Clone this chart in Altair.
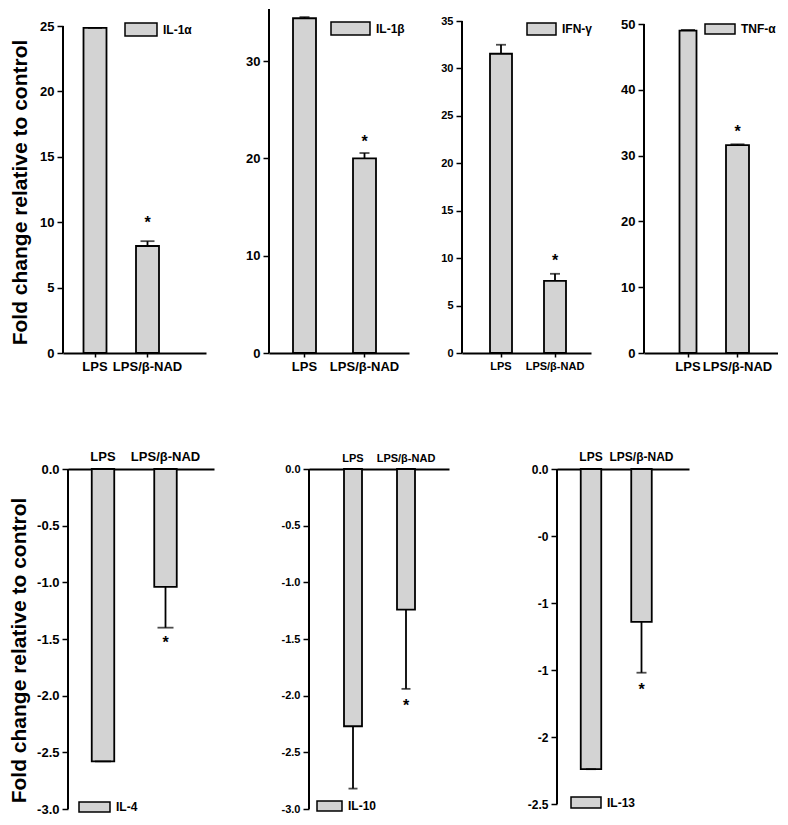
import altair as alt
import pandas as pd

# ---------------- data ----------------
groups = ["LPS", "LPS/β-NAD"]
cytokines = ["IL-1α", "IL-1β", "IFN-γ", "TNF-α", "IL-4", "IL-10", "IL-13"]
means = [
    [24.85, 8.18],
    [34.4, 20.0],
    [31.55, 7.6],
    [49.0, 31.6],
    [-2.58, -1.04],
    [-2.27, -1.24],
    [-2.24, -1.14],
]
sems = [
    [0.0, 0.37],
    [0.12, 0.55],
    [0.95, 0.75],
    [0.1, 0.12],
    [0.0, 0.36],
    [0.55, 0.70],
    [0.0, 0.38],
]
significant = [False, True]
y_ticks = [
    [0, 5, 10, 15, 20, 25],
    [0, 10, 20, 30],
    [0, 5, 10, 15, 20, 25, 30, 35],
    [0, 10, 20, 30, 40, 50],
    [0.0, -0.5, -1.0, -1.5, -2.0, -2.5, -3.0],
    [0.0, -0.5, -1.0, -1.5, -2.0, -2.5, -3.0],
    [0.0, -0.5, -1.0, -1.5, -2.0, -2.5],
]
y_tick_labels = [
    ["0", "5", "10", "15", "20", "25"],
    ["0", "10", "20", "30"],
    ["0", "5", "10", "15", "20", "25", "30", "35"],
    ["0", "10", "20", "30", "40", "50"],
    ["0.0", "-0.5", "-1.0", "-1.5", "-2.0", "-2.5", "-3.0"],
    ["0.0", "-0.5", "-1.0", "-1.5", "-2.0", "-2.5", "-3.0"],
    ["0.0", "-0", "-1", "-1", "-2", "-2.5"],
]
axis_ends = [25, 35.35, 35, 50, -3.0, -3.0, -2.5]
y_title = "Fold change relative to control"

# ---------------- layout / style ----------------
FONT = "Liberation Sans"
GRAY = "#d3d3d3"
LEG_S = 14  # legend entry height
# leg = (box left, box center y, box width, box height) relative to the plot origin
layout = [
    dict(pw=206, ph=344, r=(0, 143), c=(32, 84.5), bw=(23, 23), ydom=(0, 26.3), lfs=13, cap=14, star=-18,
         leg=(61, 19.5, 32, 13), title=(-42.5, 183), off=0),
    dict(pw=193, ph=344, r=(0, 140), c=(35.5, 95.5), bw=(23, 23), ydom=(0, 35.35), lfs=13, cap=10, star=-11,
         leg=(61, 18.5, 39, 13), title=None, off=0),
    dict(pw=182, ph=344, r=(0, 129), c=(39, 93), bw=(22, 22), ydom=(0, 36.27), lfs=11, cap=10, star=-12.7,
         leg=(64, 19, 29, 12), title=None, off=0),
    dict(pw=134, ph=344, r=(0, 134), c=(44, 93.5), bw=(17, 23), ydom=(0, 52.28), lfs=13, cap=14, star=-12.6,
         leg=(60, 19, 30, 10), title=None, off=0),
    dict(pw=246, ph=340, r=(5, 151), c=(40, 102.5), bw=(22.5, 22.5), ydom=(-3, 0), lfs=13, cap=16, star=15,
         leg=(15, 337, 31, 10), title=(-48.5, 181), off=-5),
    dict(pw=248, ph=340, r=(0, 140), c=(44, 97), bw=(18, 18), ydom=(-3, 0), lfs=11, cap=9, star=17,
         leg=(7, 336, 25, 10), title=None, off=0),
    dict(pw=132, ph=340, r=(0, 132), c=(34, 84.5), bw=(20.5, 20.5), ydom=(-2.537, 0), lfs=12, cap=10,
         star=17.7, leg=(13, 332.5, 30, 11), title=None, off=0),
]
ROW_GAP = 77


def label_expr(vals, labs):
    expr = "''"
    for v, l in reversed(list(zip(vals, labs))):
        expr = f"abs(datum.value - ({v})) < 1e-6 ? '{l}' : {expr}"
    return expr


def band_params(r0, r1, c1, c2):
    W = r1 - r0
    s = c2 - c1
    po = (W / s - 2) / 2
    al = ((c1 - r0) - s / 2) / (W - 2 * s)
    return po, al


def make_legend(box_left, cy, w, h):
    S = LEG_S
    kx = round(w / S, 4)
    ky = round(h / S, 4)
    path = f"M-{kx},-{ky}H{kx}V{ky}H-{kx}Z"
    lx = box_left - S / 2 + w / 2
    off = w / 2 + 5 - S / 2
    return alt.Legend(title=None, orient="none", legendX=lx, legendY=cy - S / 2,
                      symbolType=path, symbolSize=S * S,
                      symbolStrokeColor="black", symbolStrokeWidth=1.5, symbolFillColor=GRAY,
                      labelFont=FONT, labelFontWeight="bold", labelFontSize=12,
                      labelColor="black", labelOffset=off, padding=0)


def panel(i):
    name = cytokines[i]
    lay = layout[i]
    top = i < 4
    sign = 1 if top else -1
    df = pd.DataFrame({
        "group": groups,
        "value": means[i],
        "err": sems[i],
        "sig": significant,
        "cyt": [name, name],
    })
    df["end"] = df["value"] + sign * df["err"]

    po, al = band_params(lay["r"][0], lay["r"][1], lay["c"][0], lay["c"][1])
    xscale = alt.Scale(domain=groups, range=list(lay["r"]), paddingInner=0,
                       paddingOuter=po, align=al)
    yscale = alt.Scale(domain=list(lay["ydom"]), nice=False, zero=False)

    xaxis_kw = dict(title=None, labelAngle=0, labelFont=FONT, labelFontWeight="bold",
                    labelFontSize=lay["lfs"], labelColor="black", domainColor="black",
                    domainWidth=2, bandPosition=0.5, grid=False)
    if top:
        xaxis = alt.Axis(orient="bottom", ticks=True, tickSize=4, tickWidth=1.5,
                         tickColor="black", labelPadding=3, **xaxis_kw)
    else:
        xaxis = alt.Axis(orient="top", ticks=False, labelPadding=6, **xaxis_kw)

    yaxis_kw = dict(values=y_ticks[i], labelExpr=label_expr(y_ticks[i], y_tick_labels[i]),
                    domain=False, grid=False, tickSize=6, tickWidth=1.5, tickColor="black",
                    labelPadding=3, labelFont=FONT, labelFontWeight="bold",
                    labelFontSize=lay["lfs"], labelColor="black", offset=lay["off"])
    if lay["title"] is not None:
        yaxis = alt.Axis(title=y_title, titleFont=FONT, titleFontWeight="bold", titleFontSize=21,
                         titleColor="black", titleAngle=270, titleAlign="center",
                         titleBaseline="middle", titleX=lay["title"][0], titleY=lay["title"][1],
                         **yaxis_kw)
    else:
        yaxis = alt.Axis(title=None, **yaxis_kw)

    legend = make_legend(*lay["leg"])

    X = alt.X("group:N", scale=xscale, sort=groups, axis=xaxis)
    color = alt.Color("cyt:N", scale=alt.Scale(range=[GRAY]), legend=legend)

    base = alt.Chart(df)
    bar_layers = []
    for g, w in zip(groups, lay["bw"]):
        bar_layers.append(
            base.transform_filter(alt.datum.group == g)
            .mark_bar(width=w, stroke="black", strokeWidth=1.8)
            .encode(
                x=X,
                y=alt.Y("value:Q", scale=yscale, axis=yaxis),
                y2=alt.datum(0),
                color=color,
            )
        )
    errs = base.mark_rule(color="black", strokeWidth=1.8).encode(
        x=X,
        y=alt.Y("value:Q", scale=yscale, axis=yaxis),
        y2="end:Q",
    )
    caps = base.mark_tick(color="black", thickness=1.8, size=lay["cap"], orient="horizontal").encode(
        x=X,
        y=alt.Y("end:Q", scale=yscale, axis=yaxis),
    )
    stars = base.transform_filter(alt.datum.sig).mark_text(
        text="*", font=FONT, fontSize=16, fontWeight="bold", color="black", dy=lay["star"]
    ).encode(
        x=X,
        y=alt.Y("end:Q", scale=yscale, axis=yaxis),
    )
    axis_line = alt.Chart(pd.DataFrame({"a": [0.0], "b": [axis_ends[i]]})).mark_rule(
        color="black", strokeWidth=2
    ).encode(
        x=alt.value(lay["r"][0]),
        y=alt.Y("a:Q", scale=yscale, axis=yaxis),
        y2="b:Q",
    )
    return alt.layer(*bar_layers, errs, caps, stars, axis_line).properties(
        width=lay["pw"], height=lay["ph"]
    )


top_row = alt.hconcat(*[panel(i) for i in range(4)], spacing=0, bounds="flush").resolve_scale(
    color="independent").resolve_legend(color="independent")
bottom_row = alt.hconcat(*[panel(i) for i in range(4, 7)], spacing=0, bounds="flush").resolve_scale(
    color="independent").resolve_legend(color="independent")

chart = alt.vconcat(top_row, bottom_row, spacing=ROW_GAP).resolve_scale(
    color="independent").resolve_legend(color="independent").properties(
    padding=0, background="white"
).configure(font=FONT).configure_view(stroke=None)

chart.save("out.html", embed_options={"renderer": "svg", "actions": False})
